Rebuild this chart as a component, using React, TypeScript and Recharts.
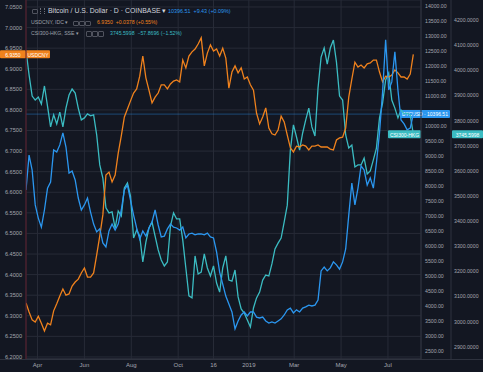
import React from "react";
import {
  LineChart,
  Line,
  XAxis,
  YAxis,
  CartesianGrid,
  ReferenceLine,
} from "recharts";

// closes, one sample every 4 days from 17 Mar 2018
const START_DATE = "2018-03-17";
const STEP_DAYS = 4;

const bitcoin = [
  7870, 9030, 8530, 7370, 6930, 6630, 7200, 7930, 8130, 9200,
  9130, 9370, 9770, 9300, 8430, 8500, 8200, 7600, 7200, 7370,
  7600, 7130, 6730, 6470, 6570, 6100, 5970, 6500, 6730, 6530,
  6730, 7200, 7870, 8030, 7530, 7030, 6600, 6230, 6500, 6330,
  6600, 6800, 7200, 6700, 6300, 6330, 6570, 6730, 6630, 6600,
  6530, 6630, 6270, 6400, 6430, 6370, 6400, 6400, 6370, 6430,
  6300, 6270, 5800, 5130, 4730, 4330, 4070, 3800, 3240, 3500,
  3700, 3800, 3670, 3800, 3800, 3630, 3600, 3630, 3500, 3430,
  3470, 3430, 3500, 3570, 3700, 3870, 3930, 3770, 3870, 3800,
  3930, 3970, 4030, 4000, 4030, 4200, 5170, 5300, 5170, 5270,
  5470, 5370, 5230, 5470, 5900, 7030, 8100, 7370, 7930, 8670,
  8530, 8030, 8270, 7930, 8770, 9770, 11130, 12870, 11200, 11470,
  12470, 11200, 10200, 10070, 9870, 9930, 10396.51,
];

const usdCny = [
  6.331, 6.309, 6.29, 6.285, 6.299, 6.282, 6.263, 6.282, 6.278, 6.312,
  6.329, 6.348, 6.365, 6.35, 6.353, 6.372, 6.382, 6.389, 6.404, 6.416,
  6.394, 6.394, 6.404, 6.448, 6.494, 6.545, 6.642, 6.649, 6.625, 6.642,
  6.695, 6.737, 6.783, 6.802, 6.822, 6.841, 6.851, 6.882, 6.931, 6.878,
  6.848, 6.817, 6.831, 6.841, 6.861, 6.861, 6.851, 6.863, 6.87, 6.873,
  6.868, 6.921, 6.902, 6.931, 6.941, 6.948, 6.96, 6.975, 6.907, 6.938,
  6.958, 6.943, 6.948, 6.931, 6.95, 6.926, 6.853, 6.892, 6.907, 6.89,
  6.902, 6.875, 6.88, 6.861, 6.848, 6.792, 6.766, 6.783, 6.805, 6.756,
  6.742, 6.739, 6.751, 6.785, 6.771, 6.739, 6.708, 6.698, 6.712, 6.71,
  6.715, 6.712, 6.703, 6.712, 6.712, 6.715, 6.71, 6.71, 6.71, 6.705,
  6.703, 6.727, 6.732, 6.734, 6.756, 6.831, 6.875, 6.916, 6.904, 6.909,
  6.902, 6.912, 6.914, 6.921, 6.921, 6.892, 6.868, 6.882, 6.88, 6.885,
  6.897, 6.89, 6.88, 6.88, 6.875, 6.887, 6.935,
];

const csi300 = [
  4081, 3982, 3898, 3882, 3894, 3866, 3938, 3858, 3775, 3823,
  3787, 3834, 3775, 3850, 3902, 3926, 3910, 3850, 3803, 3811,
  3827, 3819, 3823, 3743, 3624, 3572, 3453, 3433, 3437, 3373,
  3441, 3421, 3532, 3552, 3500, 3333, 3365, 3341, 3238, 3317,
  3373, 3397, 3341, 3286, 3246, 3222, 3238, 3381, 3433, 3409,
  3409, 3325, 3214, 3103, 3095, 3262, 3190, 3198, 3270, 3214,
  3182, 3222, 3154, 3118, 3214, 3262, 3166, 3162, 3206, 3099,
  3051, 3035, 3007, 2979, 3055, 3095, 3118, 3166, 3186, 3182,
  3230, 3290, 3313, 3333, 3397, 3464, 3683, 3783, 3735, 3683,
  3751, 3803, 3850, 3775, 3739, 3930, 4053, 4089, 4025, 4089,
  4121, 4033, 3898, 3882, 3743, 3691, 3703, 3616, 3624, 3624,
  3651, 3588, 3600, 3644, 3691, 3811, 3870, 3962, 3990, 3882,
  3850, 3811, 3842, 3827, 3830, 3823, 3745.5998,
];

const xTickDates = [
  "2018-04-01", "2018-06-01", "2018-08-01", "2018-10-01", "2018-11-16",
  "2019-01-01", "2019-03-01", "2019-05-01", "2019-07-01",
];
const xTickLabels = ["Apr", "Jun", "Aug", "Oct", "16", "2019", "Mar", "May", "Jul"];

const cnyTicks = [
  6.2, 6.25, 6.3, 6.35, 6.4, 6.45, 6.5, 6.55, 6.6, 6.65,
  6.7, 6.75, 6.8, 6.85, 6.9, 6.95, 7.0, 7.05,
];
// 10500 sits under the BTCUSD price tag, so it is not shown
const btcTicks = [
  2500, 3000, 3500, 4000, 4500, 5000, 5500, 6000, 6500, 7000, 7500, 8000,
  8500, 9000, 9500, 10000, 11000, 11500, 12000, 12500, 13000, 13500, 14000,
];
const csiTicks = [
  2900, 3000, 3100, 3200, 3300, 3400, 3500, 3600, 3700, 3800, 3900, 4000, 4100, 4200,
];

const BG = "#131722";
const GRID = "#272b37";
const BORDER = "#2e323e";
const TEXT = "#a3a6af";
const ORANGE = "#f0821d";
const BLUE = "#2b97f0";
const CYAN = "#3bbcc2";
const FONT = "'Liberation Sans', Arial, sans-serif";

const DAY_MS = 86400000;
const dayOf = (iso: string) => (Date.parse(iso) - Date.parse(START_DATE)) / DAY_MS;

const data = bitcoin.map((btc, i) => ({
  day: i * STEP_DAYS,
  btc,
  cny: usdCny[i],
  csi: csi300[i],
}));
const tickDays = xTickDates.map(dayOf);
const lastIdx = bitcoin.length - 1;

function PriceTag({ viewBox, boxes, side, bg }: any) {
  if (!viewBox) return null;
  const base = side === "left" ? viewBox.x : viewBox.x + viewBox.width;
  const y = viewBox.y;
  return (
    <g>
      {boxes.map((b: any, i: number) => (
        <g key={i}>
          <rect x={base + b.x} y={y - 4} width={b.w} height={8} fill={bg} rx={1} />
          <text
            x={base + b.x + b.w / 2}
            y={y + 0.3}
            textAnchor="middle"
            dominantBaseline="central"
            fontSize={5}
            fontFamily={FONT}
            fill="#ffffff"
          >
            {b.text}
          </text>
        </g>
      ))}
    </g>
  );
}

function Icon({ left, top }: { left: number; top: number }) {
  return (
    <span
      style={{
        position: "absolute",
        left,
        top,
        width: 3.5,
        height: 3.5,
        border: "1px solid #50535e",
        borderRadius: 1,
      }}
    />
  );
}

export default function App() {
  const txt = (left: number, top: number, size: number, color: string, s: string) => (
    <span
      style={{
        position: "absolute",
        left,
        top,
        fontSize: size,
        lineHeight: 1,
        color,
        whiteSpace: "pre",
        fontFamily: FONT,
      }}
    >
      {s}
    </span>
  );

  return (
    <div style={{ position: "absolute", left: 0, top: 0, width: 483, height: 372, background: BG, overflow: "hidden" }}>
      <LineChart width={483} height={372} data={data} margin={{ top: 0, right: 0, bottom: 0, left: 0 }}>
        <CartesianGrid stroke={GRID} strokeWidth={1} yAxisId="cny" />
        <XAxis
          dataKey="day"
          type="number"
          domain={[0, 514]}
          allowDataOverflow
          ticks={tickDays}
          interval={0}
          height={13}
          tickSize={0}
          tickMargin={4}
          tickLine={false}
          axisLine={{ stroke: BORDER }}
          tick={{ fontSize: 6, fill: TEXT, fontFamily: FONT }}
          tickFormatter={(v: number) => xTickLabels[tickDays.indexOf(v)] ?? ""}
        />
        <YAxis
          yAxisId="cny"
          orientation="left"
          width={26}
          domain={[6.195, 7.067]}
          allowDataOverflow
          ticks={cnyTicks}
          interval={0}
          tickSize={0}
          tickMargin={4}
          tickLine={false}
          axisLine={{ stroke: "#5c1c2b" }}
          tick={{ fontSize: 5.6, fill: TEXT, fontFamily: FONT }}
          tickFormatter={(v: number) => v.toFixed(4)}
        />
        <YAxis
          yAxisId="btc"
          orientation="right"
          width={30}
          domain={[2233, 14200]}
          allowDataOverflow
          ticks={btcTicks}
          interval={0}
          tickSize={0}
          tickMargin={4}
          tickLine={false}
          axisLine={{ stroke: BORDER }}
          tick={{ fontSize: 5.2, fill: TEXT, fontFamily: FONT }}
          tickFormatter={(v: number) => v.toFixed(2)}
        />
        <YAxis
          yAxisId="csi"
          orientation="right"
          width={32}
          domain={[2852, 4280]}
          allowDataOverflow
          ticks={csiTicks}
          interval={0}
          tickSize={0}
          tickMargin={3}
          tickLine={false}
          axisLine={{ stroke: BORDER }}
          tick={{ fontSize: 5.2, fill: TEXT, fontFamily: FONT }}
          tickFormatter={(v: number) => v.toFixed(4)}
        />
        <ReferenceLine
          yAxisId="btc"
          y={bitcoin[lastIdx]}
          stroke={BLUE}
          strokeOpacity={0.4}
          label={<PriceTag side="right" bg={BLUE} boxes={[{ x: -21, w: 50, text: "BTCUSD · 10396.51" }]} />}
        />
        <Line
          yAxisId="csi"
          dataKey="csi"
          type="linear"
          stroke={CYAN}
          strokeWidth={1.3}
          dot={false}
          isAnimationActive={false}
        />
        <Line
          yAxisId="cny"
          dataKey="cny"
          type="linear"
          stroke={ORANGE}
          strokeWidth={1.3}
          dot={false}
          isAnimationActive={false}
        />
        <Line
          yAxisId="btc"
          dataKey="btc"
          type="linear"
          stroke={BLUE}
          strokeWidth={1.3}
          dot={false}
          isAnimationActive={false}
        />
        <ReferenceLine
          yAxisId="csi"
          y={csi300[lastIdx]}
          strokeOpacity={0}
          label={
            <PriceTag
              side="right"
              bg={CYAN}
              boxes={[
                { x: -33, w: 33, text: "CSI300-HKG" },
                { x: 31, w: 31, text: "3745.5998" },
              ]}
            />
          }
        />
        <ReferenceLine
          yAxisId="cny"
          y={usdCny[lastIdx]}
          strokeOpacity={0}
          label={
            <PriceTag
              side="left"
              bg={ORANGE}
              boxes={[
                { x: -26, w: 26, text: "6.9350" },
                { x: 0, w: 24, text: "USDCNY" },
              ]}
            />
          }
        />
      </LineChart>

      <div style={{ position: "absolute", left: 0, top: 359, width: 483, height: 0, borderTop: `1px solid ${BORDER}` }} />

      {/* legend block, top left */}
      <Icon left={32} top={8.5} />
      <span style={{ position: "absolute", left: 40, top: 8, width: 3, height: 6, borderLeft: "1px dotted #6b6e78", borderRight: "1px dotted #6b6e78" }} />
      {txt(48, 7.5, 6.9, "#d1d4dc", "Bitcoin / U.S. Dollar · D · COINBASE ▾")}
      {txt(168, 8.5, 5.4, BLUE, "10396.51  +9.43 (+0.09%)")}

      {txt(31, 20, 5.2, "#9ea1aa", "USDCNY, IDC ▾")}
      <Icon left={73} top={20.5} />
      <Icon left={79} top={20.5} />
      <Icon left={85} top={20.5} />
      {txt(97, 20.2, 5.2, ORANGE, "6.9350  +0.0378 (+0.55%)")}

      {txt(31, 30.5, 5.2, "#9ea1aa", "CSI300-HKG, SSE ▾")}
      <Icon left={86} top={31} />
      <Icon left={92} top={31} />
      <Icon left={98} top={31} />
      {txt(110, 30.7, 5.2, CYAN, "3745.5998  −57.8696 (−1.52%)")}
    </div>
  );
}
